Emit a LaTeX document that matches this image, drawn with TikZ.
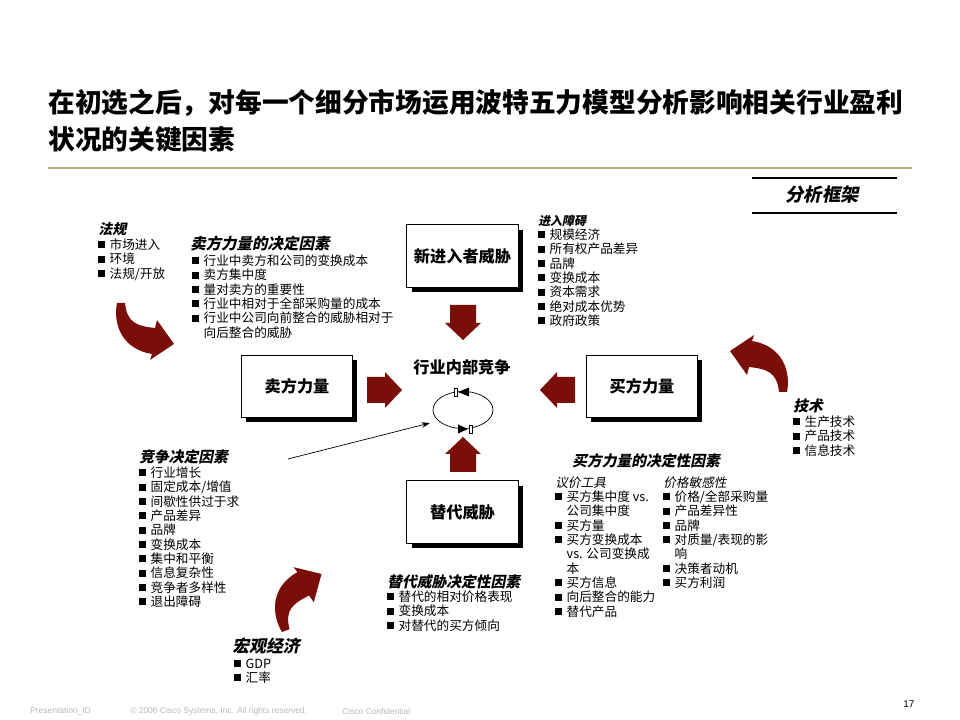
\documentclass[tikz,border=0pt]{standalone}
\usepackage{fontspec}
\setmainfont{Noto Sans CJK SC}
\newfontfamily\headfont{Noto Sans CJK SC}[FakeSlant=0.2]
\newfontfamily\footfont{Liberation Sans}
\usetikzlibrary{arrows.meta,positioning,shadows}
\definecolor{ForceRed}{RGB}{122,14,8}
\definecolor{RuleTan}{RGB}{192,174,132}
\definecolor{FootGrey}{RGB}{185,185,185}
\newcommand{\itm}{\rule[0.1em]{0.55em}{0.55em}\hspace{0.35em}}
\newcommand{\ind}{\hspace*{0.9em}}
\newcommand{\blockarrow}[3]{%
  \fill[ForceRed,shift={(#1,#2)},rotate=#3] (0,0)--(-17,18)--(-17,13)--(-35,13)--(-35,-13)--(-17,-13)--(-17,-18)--cycle;}
\newcommand{\bentarrow}[3]{%
  \fill[ForceRed,shift={(#1,#2)},#3] (0,0) .. controls (4,-20) and (-4,-46) .. (-35,-51)
    -- (-33,-57) -- (-57,-41) -- (-40,-17) -- (-38,-25) .. controls (-20,-23) and (-10,-20) .. (-8,0) -- cycle;}

\begin{document}
\begin{tikzpicture}[x=0.025cm,y=-0.025cm,
  forcebox/.style={draw,fill=white,line width=0.7pt,minimum width=2.775cm,minimum height=1.55cm,
    font=\bfseries\fontsize{11.5}{13}\selectfont,
    drop shadow={shadow xshift=3.5pt,shadow yshift=-3.5pt,opacity=1,fill=black}},
  items/.style={anchor=north west,inner sep=0pt,align=left,font=\fontsize{9}{10.2}\selectfont},
  head/.style={anchor=west,inner sep=0pt,font=\headfont\bfseries\fontsize{#1}{#1}\selectfont},
  subhead/.style={anchor=west,inner sep=0pt,font=\headfont\fontsize{9}{10}\selectfont},
  foot/.style={anchor=west,inner sep=0pt,text=FootGrey,font=\footfont\fontsize{6}{7}\selectfont}]
  \useasboundingbox (0,0) rectangle (960,720);

  \node[anchor=north west,inner sep=0pt,align=left,font=\bfseries\fontsize{19}{26.3}\selectfont] (title) at (48,89)
    {在初选之后，对每一个细分市场运用波特五力模型分析影响相关行业盈利\\状况的关键因素};
  \draw[RuleTan,line width=1.2pt] (48,168) -- (912,168);
  \draw[line width=0.9pt] (752,178) -- (897,178);
  \draw[line width=0.9pt] (752,213) -- (897,213);
  \node[inner sep=0pt,font=\headfont\bfseries\fontsize{13}{14}\selectfont] (frame) at (822,195) {分析框架};

  \node[forcebox] (entrant) at (462.5,256) {新进入者威胁};
  \node[forcebox] (seller) at (297,386.5) {卖方力量};
  \node[forcebox] (buyer) at (642,386.5) {买方力量};
  \node[forcebox] (subst) at (462.5,512) {替代威胁};

  \node[inner sep=0pt,font=\bfseries\fontsize{11.5}{13}\selectfont] (rivalry) at (462,367) {行业内部竞争};
  \coordinate (ring) at (463,410);
  \draw[line width=0.5pt] (ring) ellipse [x radius=30,y radius=18.5];
  \fill (469,387.5) -- (458,392) -- (469,396.5) -- cycle;
  \draw[fill=white,line width=0.4pt] (454.5,388) rectangle (457.5,396);
  \fill (458,424.5) -- (468,429) -- (458,433.5) -- cycle;
  \draw[fill=white,line width=0.4pt] (469,425) rectangle (472,433);

  \blockarrow{463}{340}{-90}
  \blockarrow{402}{390}{0}
  \blockarrow{540}{390}{180}
  \blockarrow{463}{437}{90}

  \bentarrow{117}{303}{rotate=180}
  \bentarrow{787}{392}{}
  \bentarrow{282}{632}{rotate=20,xscale=-1}

  \coordinate (ptr) at (288,459);
  \coordinate (ptrend) at (430,423);
  \draw[-{Stealth[length=6pt,width=4pt]},line width=0.5pt] (ptr) -- (ptrend);

  \node[head=10] (lawhead) at (98,229) {法规};
  \node[items] (lawlist) at (98,238.5) {\itm 市场进入\\\itm 环境\\\itm 法规/开放};

  \node[head=11] (sellhead) at (190,244) {卖方力量的决定因素};
  \node[items] (selllist) at (192,254.5) {\itm 行业中卖方和公司的变换成本\\\itm 卖方集中度\\\itm 量对卖方的重要性\\
    \itm 行业中相对于全部采购量的成本\\\itm 行业中公司向前整合的威胁相对于\\\ind 向后整合的威胁};

  \node[head=8.5] (entryhead) at (538,221) {进入障碍};
  \node[items] (entrylist) at (538,228.5) {\itm 规模经济\\\itm 所有权产品差异\\\itm 品牌\\\itm 变换成本\\
    \itm 资本需求\\\itm 绝对成本优势\\\itm 政府政策};

  \node[head=10.5] (techhead) at (793,406) {技术};
  \node[items] (techlist) at (793,415.5) {\itm 生产技术\\\itm 产品技术\\\itm 信息技术};

  \node[head=10.5] (rivalhead) at (139,457) {竞争决定因素};
  \node[items] (rivallist) at (139,466.5) {\itm 行业增长\\\itm 固定成本/增值\\\itm 间歇性供过于求\\\itm 产品差异\\
    \itm 品牌\\\itm 变换成本\\\itm 集中和平衡\\\itm 信息复杂性\\\itm 竞争者多样性\\\itm 退出障碍};

  \node[head=10.5] (buyhead) at (572,461) {买方力量的决定性因素};
  \node[subhead] (leverhead) at (555,483) {议价工具};
  \node[items] (leverlist) at (555,490.5) {\itm 买方集中度 vs.\\\ind 公司集中度\\\itm 买方量\\\itm 买方变换成本\\
    \ind vs. 公司变换成\\\ind 本\\\itm 买方信息\\\itm 向后整合的能力\\\itm 替代产品};
  \node[subhead] (pricehead) at (663,483) {价格敏感性};
  \node[items] (pricelist) at (663,490.5) {\itm 价格/全部采购量\\\itm 产品差异性\\\itm 品牌\\\itm 对质量/表现的影\\
    \ind 响\\\itm 决策者动机\\\itm 买方利润};

  \node[head=10.5] (substhead) at (387,582) {替代威胁决定性因素};
  \node[items] (substlist) at (387,590.5) {\itm 替代的相对价格表现\\\itm 变换成本\\\itm 对替代的买方倾向};

  \node[head=12] (macrohead) at (232,646) {宏观经济};
  \node[items] (macrolist) at (234,658.5) {\itm GDP\\\itm 汇率};

  \node[foot] (pid) at (30,711) {Presentation\_ID};
  \node[foot] (copy) at (130,711) {© 2006 Cisco Systems, Inc. All rights reserved.};
  \node[foot] (conf) at (342,711) {Cisco Confidential};
  \node[anchor=west,inner sep=0pt,font=\footfont\fontsize{7}{8}\selectfont] (page) at (903,704) {17};
\end{tikzpicture}
\end{document}
